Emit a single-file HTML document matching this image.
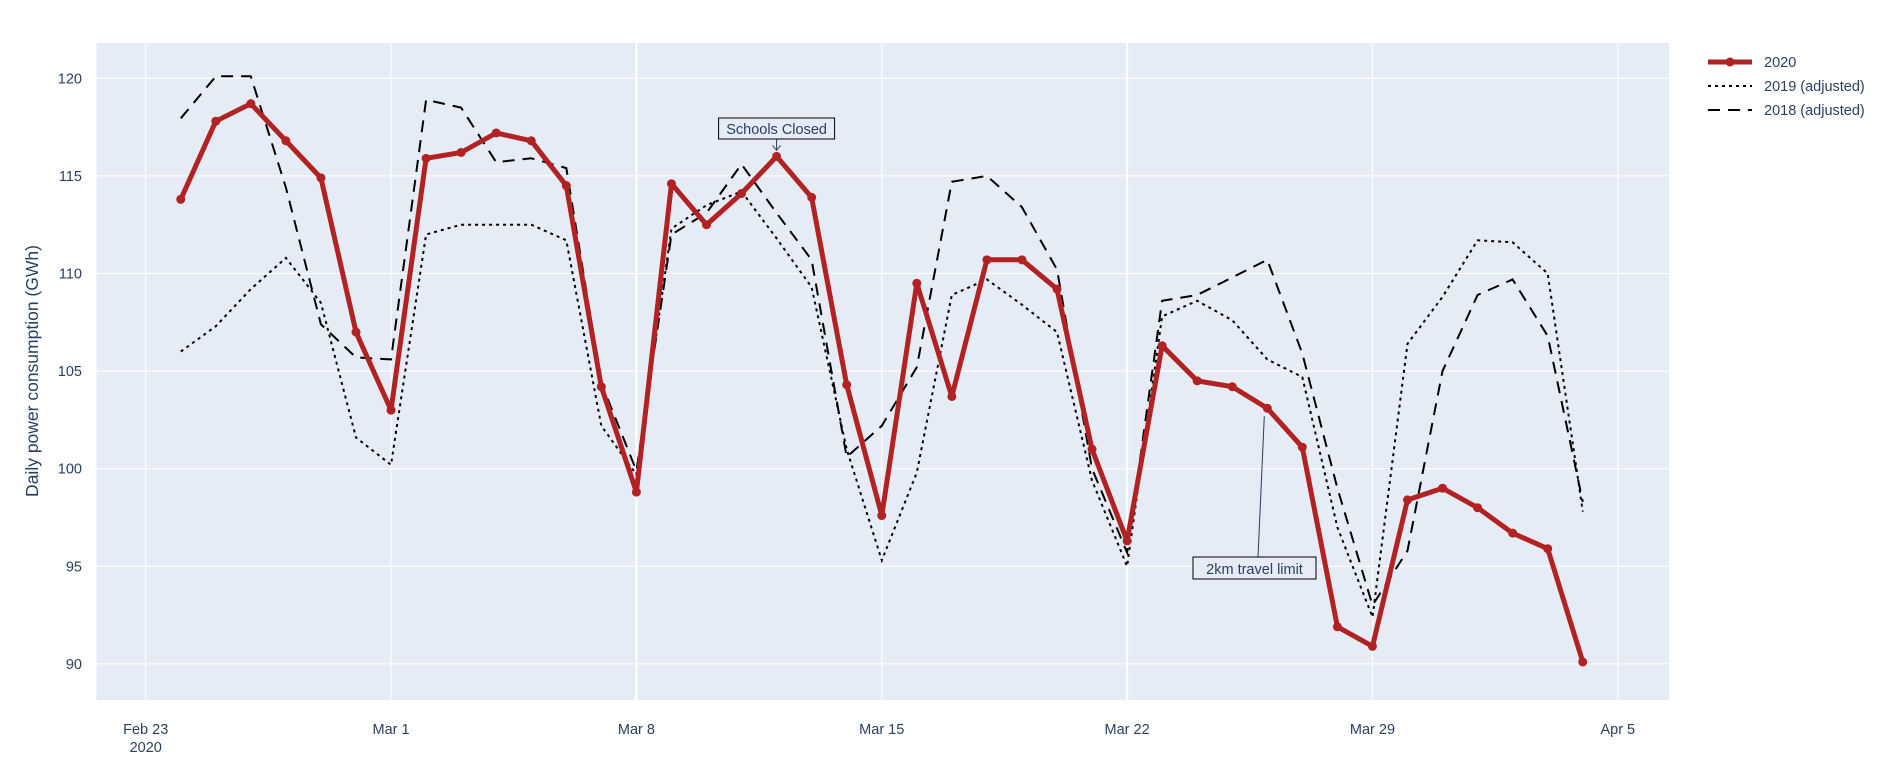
<!DOCTYPE html>
<html><head><meta charset="utf-8"><style>
body{margin:0;background:#fff;}
svg{display:block;font-family:"Liberation Sans",sans-serif;}
</style></head><body>
<svg id="chart" width="1894" height="763" xmlns="http://www.w3.org/2000/svg">
<rect x="0" y="0" width="1894" height="763" fill="#fff"/>
<rect x="96.5" y="43" width="1572.5" height="657" fill="#e5ecf6"/>
<g id="grid"></g>
<g id="series"></g>
<g id="axes"></g>
<g id="annot"></g>
<g id="legend"></g>
</svg>
<script>
const dayLabels=["Feb 23","Mar 1","Mar 8","Mar 15","Mar 22","Mar 29","Apr 5"];
const dayTickOffsets=[0,7,14,21,28,35,42];
const yTicks=[90,95,100,105,110,115,120];
const startOffset=1; // Feb 24
const s2020=[113.8,117.8,118.7,116.8,114.9,107.0,103.0,115.9,116.2,117.2,116.8,114.5,104.2,98.8,114.6,112.5,114.1,116.0,113.9,104.3,97.6,109.5,103.7,110.7,110.7,109.2,101.0,96.3,106.3,104.5,104.2,103.1,101.1,91.9,90.9,98.4,99.0,98.0,96.7,95.9,90.1];
const s2019=[106.0,107.3,109.2,110.8,108.5,101.6,100.2,112.0,112.5,112.5,112.5,111.7,102.2,99.7,112.3,113.5,114.2,111.8,109.3,101.0,95.3,99.8,108.9,109.7,108.4,107.0,99.4,95.0,107.8,108.6,107.6,105.6,104.7,97.0,92.4,106.4,108.8,111.7,111.6,110.0,97.8];
const s2018=[117.95,120.1,120.1,114.4,107.4,105.7,105.6,118.9,118.5,115.7,115.9,115.4,104.4,99.9,112.0,113.1,115.6,113.1,110.7,100.6,102.2,105.2,114.7,115.0,113.4,110.2,100.0,95.7,108.6,108.9,109.8,110.7,105.9,99.0,93.0,95.8,105.0,108.9,109.7,106.8,98.3];
const NS="http://www.w3.org/2000/svg";
const X=d=>145.7+d*35.05;
const Y=v=>78.3+(120-v)*19.52;
function mk(tag,attrs,parent,txt){const e=document.createElementNS(NS,tag);for(const k in attrs)e.setAttribute(k,attrs[k]);if(txt!=null)e.textContent=txt;parent.appendChild(e);return e;}
const grid=document.getElementById('grid'),axes=document.getElementById('axes'),ser=document.getElementById('series'),ann=document.getElementById('annot'),leg=document.getElementById('legend');
yTicks.forEach(v=>{
 const l=mk('line',{x1:96.5,x2:1669,y1:Y(v),y2:Y(v),stroke:'#fff','stroke-width':1},grid);
 
 
 const t=mk('text',{x:82,y:Y(v)+5,'text-anchor':'end','font-size':14.5,fill:'#2a3f5f'},axes,String(v));
 
 
});
dayTickOffsets.forEach((d,i)=>{
 const l=mk('line',{x1:X(d),x2:X(d),y1:43,y2:700,stroke:'#fff','stroke-width':(d===14||d===28)?2:1},grid);
 
 
 const t=mk('text',{x:X(d),y:734,'text-anchor':'middle','font-size':14.5,fill:'#2a3f5f'},axes,dayLabels[i]);
 
 
});
const yr=mk('text',{x:X(0),y:752,'text-anchor':'middle','font-size':14.5,fill:'#2a3f5f'},axes,'2020');


const yt=mk('text',{x:0,y:0,transform:'translate(38,371) rotate(-90)','text-anchor':'middle','font-size':17.5,fill:'#2a3f5f'},axes,'Daily power consumption (GWh)');


function pts(arr){return arr.map((v,i)=>X(startOffset+i).toFixed(1)+','+Y(v).toFixed(1)).join(' ');}
const l19=mk('polyline',{points:pts(s2019),fill:'none',stroke:'#000','stroke-width':2,'stroke-dasharray':'3,4'},ser);


const l18=mk('polyline',{points:pts(s2018),fill:'none',stroke:'#000','stroke-width':2,'stroke-dasharray':'12,8'},ser);


const l20=mk('polyline',{points:pts(s2020),fill:'none',stroke:'#b22222','stroke-width':5,'stroke-linejoin':'round'},ser);


s2020.forEach((v,i)=>{
 const c=mk('circle',{cx:X(startOffset+i),cy:Y(v),r:4.5,fill:'#b22222'},ser);
 
 
});
// annotations
const scX=X(18),scY=Y(s2020[17]);
mk('line',{x1:scX,y1:139,x2:scX,y2:scY-6,stroke:'#2a3f5f','stroke-width':1},ann);
mk('path',{d:`M${scX-4},${scY-11} L${scX},${scY-6} L${scX+4},${scY-11}`,fill:'none',stroke:'#2a3f5f','stroke-width':1},ann);
const sb=mk('rect',{x:scX-58,y:118,width:116,height:21,fill:'#e5ecf6',stroke:'#000','stroke-width':1},ann);


mk('text',{x:scX,y:134,'text-anchor':'middle','font-size':14.5,fill:'#2a3f5f'},ann,'Schools Closed');
const tX=X(32),tY=Y(s2020[31]);
mk('line',{x1:1258,y1:557,x2:tX-3,y2:tY+8,stroke:'#2a3f5f','stroke-width':1},ann);
const tb=mk('rect',{x:1193,y:557,width:123,height:22,fill:'#e5ecf6',stroke:'#000','stroke-width':1},ann);


mk('text',{x:1254.5,y:574,'text-anchor':'middle','font-size':14.5,fill:'#2a3f5f'},ann,'2km travel limit');
// legend
const items=[['2020','#b22222',5,'none',true],['2019 (adjusted)','#000',2,'3,4',false],['2018 (adjusted)','#000',2,'12,8',false]];
items.forEach((it,i)=>{
 const y=62+i*24;
 const g=mk('g',{},leg);
 
 
 mk('line',{x1:1708,x2:1752,y1:y,y2:y,stroke:it[1],'stroke-width':it[2],'stroke-dasharray':it[3]},g);
 if(it[4])mk('circle',{cx:1730,cy:y,r:4.5,fill:it[1]},g);
 mk('text',{x:1764,y:y+5,'font-size':14.5,fill:'#2a3f5f'},g,it[0]);
});
</script>
</body></html>
